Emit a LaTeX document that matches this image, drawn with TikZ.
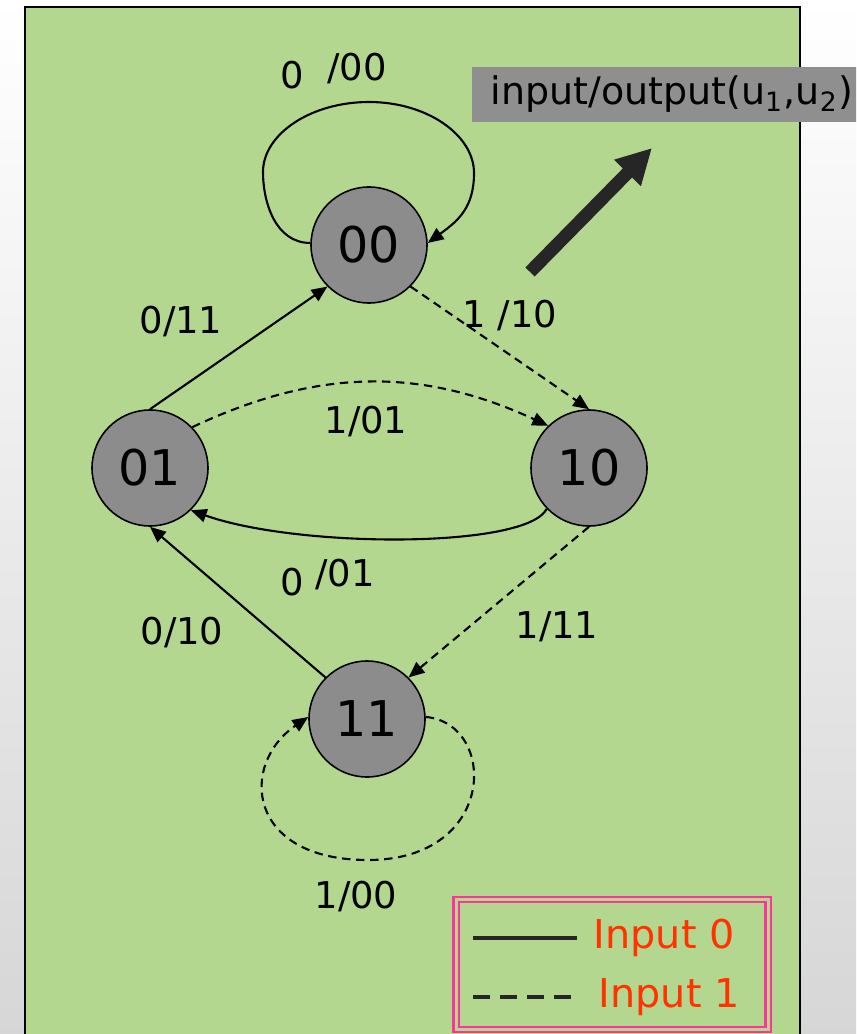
\documentclass[tikz,border=0pt]{standalone}
\usepackage{fontspec}
\setmainfont{DejaVu Sans}
\usetikzlibrary{arrows.meta,positioning}
\definecolor{fsmgreen}{RGB}{180,215,144}
\definecolor{stategray}{RGB}{140,140,140}
\definecolor{tagsgray}{RGB}{143,143,143}
\definecolor{pointerdark}{RGB}{38,38,38}
\definecolor{keypink}{RGB}{255,51,153}
\definecolor{keyred}{RGB}{255,51,0}
\tikzset{
  fsmstate/.style={circle, draw=black, fill=stategray, line width=0.45pt,
                   minimum size=11.6mm, inner sep=0pt, font=\fontsize{14}{16}\selectfont},
  fsmzero/.style ={-{Triangle[length=4.5pt,width=3.8pt]}, line width=0.6pt},
  fsmone/.style  ={fsmzero, dash pattern=on 2.4pt off 1.6pt},
  fsmlabel/.style={font=\fontsize{10.5}{12}\selectfont, inner sep=0pt},
  keytext/.style ={font=\fontsize{11.3}{13}\selectfont, text=keyred, inner sep=0pt, anchor=west},
}

\begin{document}
\begin{tikzpicture}
  \useasboundingbox (0,0) rectangle (8.56,-10.34);
  \clip (0,0) rectangle (8.56,-10.34);
  \shade[top color=white, bottom color=black!16] (0,0) rectangle (8.56,-10.34);
  \filldraw[fill=fsmgreen, draw=black, line width=0.6pt] (0.25,-0.07) rectangle (8.00,-10.60);

  % states
  \node[fsmstate] (n00) at (3.69,-2.45) {00};
  \node[fsmstate] (n01) at (1.50,-4.68) {01};
  \node[fsmstate] (n10) at (5.89,-4.68) {10};
  \node[fsmstate] (n11) at (3.67,-7.19) {11};

  % transitions
  \coordinate (loop00l) at (2.63,-1.72);
  \coordinate (loop00t) at (3.69,-1.02);
  \coordinate (loop00r) at (4.74,-1.73);
  \draw[fsmzero] (n00.178) .. controls +(-0.35,0) and +(0,-0.30) .. (loop00l)
                 .. controls +(0,0.38) and +(-0.58,0) .. (loop00t)
                 .. controls +(0.58,0) and +(0,0.38) .. (loop00r)
                 .. controls +(0,-0.35) and +(0.30,0.22) .. (n00.2);
  \draw[fsmzero] (n01.north) -- (n00.225);
  \draw[fsmone]  (n00.315) -- (n10.north);
  \draw[fsmone]  (n01.44) to[bend left=25] (n10.134);
  \draw[fsmzero] (n10.224) .. controls +(-0.2,-0.4) and +(1.07,-0.38) .. (n01.314);
  \draw[fsmone]  (n10.south) -- (n11.45);
  \draw[fsmzero] (n11.135) -- (n01.south);
  \coordinate (loop11) at (3.68,-8.60);
  \draw[fsmone]  (n11.2) .. controls +(-5:0.72) and +(0:1.30) .. (loop11)
                 .. controls +(180:1.22) and +(-0.69,-0.47) .. (n11.178);

  % edge labels
  \node[fsmlabel] (t00a) at (2.92,-0.75) {0};
  \node[fsmlabel] (t00b) at (3.57,-0.69) {/00};
  \node[fsmlabel] (t0100) at (1.81,-3.22) {0/11};
  \node[fsmlabel] (t0010) at (5.10,-3.16) {1 /10};
  \node[fsmlabel] (t0110) at (3.66,-4.22) {1/01};
  \node[fsmlabel] (t1001a) at (2.92,-5.82) {0};
  \node[fsmlabel] (t1001b) at (3.45,-5.75) {/01};
  \node[fsmlabel] (t1101) at (1.82,-6.33) {0/10};
  \node[fsmlabel] (t1011) at (5.57,-6.27) {1/11};
  \node[fsmlabel] (t1111) at (3.56,-8.97) {1/00};

  % name tag and pointer
  \node[fill=tagsgray, anchor=west, text width=3.85cm, align=left, inner xsep=0pt,
        minimum height=0.55cm, inner ysep=0pt, font=\fontsize{10.8}{13}\selectfont]
        (iotag) at (4.71,-0.945)
        {\hspace*{0.19cm}input/output(u\textsubscript{1},u\textsubscript{2})};
  \coordinate (ptail) at (5.30,-2.72);
  \coordinate (ptip)  at (6.52,-1.48);
  \draw[pointerdark, line width=3.7pt, -{Triangle[length=3.5mm,width=3.5mm]}] (ptail) -- (ptip);

  % key
  \node[draw=keypink, double=fsmgreen, double distance=0.85pt, line width=0.6pt,
        minimum width=3.12cm, minimum height=1.30cm, inner sep=0pt] (key) at (6.12,-9.645) {};
  \coordinate (k0a) at (4.73,-9.38); \coordinate (k0b) at (5.77,-9.38);
  \coordinate (k1a) at (4.73,-9.97); \coordinate (k1b) at (5.73,-9.97);
  \draw[pointerdark, line width=0.9pt] (k0a) -- (k0b);
  \draw[pointerdark, line width=0.9pt, dash pattern=on 1.7mm off 1.0mm] (k1a) -- (k1b);
  \node[keytext] (key0) at (5.93,-9.38) {Input 0};
  \node[keytext] (key1) at (5.98,-9.97) {Input 1};
\end{tikzpicture}
\end{document}
